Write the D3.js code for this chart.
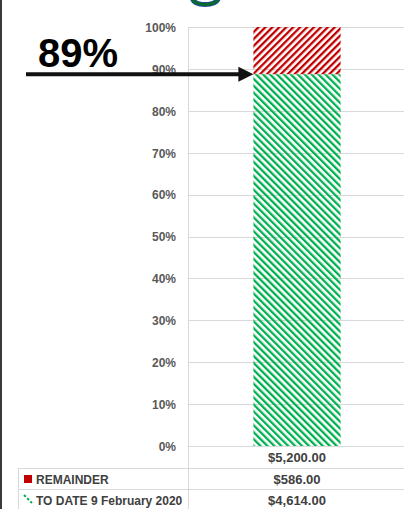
<!DOCTYPE html>
<html>
<head>
<meta charset="utf-8">
<script src="https://cdn.jsdelivr.net/npm/d3@7"></script>
<style>
  html, body { margin: 0; padding: 0; background: #fff; overflow: hidden; }
  svg { display: block; }
</style>
</head>
<body>
<svg id="chart" width="404" height="509"></svg>
<script>
// ---- data ----
const categories = ["$5,200.00"];
const seriesNames = ["TO DATE 9 February 2020", "REMAINDER"];
const toDateValues = [4614];
const remainderValues = [586];
const tableToDate = ["$4,614.00"];
const tableRemainder = ["$586.00"];
const tickValues = [0, 0.1, 0.2, 0.3, 0.4, 0.5, 0.6, 0.7, 0.8, 0.9, 1.0];
const annotationText = "89%";

// ---- layout ----
const W = 404, H = 509;
const plotLeft = 188, plotRight = 406, plotTop = 27, plotBottom = 446;
const rowLines = [468, 489];
const tableLeft = 18;
const grid = "#d9d9d9";
const red = "#c00000", green = "#00b050";

const svg = d3.select("#chart");
const defs = svg.append("defs");

function hatch(id, color, angle) {
  const p = defs.append("pattern")
    .attr("id", id).attr("patternUnits", "userSpaceOnUse")
    .attr("width", 4.9).attr("height", 4.9)
    .attr("patternTransform", `rotate(${angle})`);
  p.append("rect").attr("x", 0).attr("y", 0).attr("width", 2.3).attr("height", 4.9).attr("fill", color);
}
hatch("hatchRed", red, 45);
hatch("hatchGreen", green, -45);

// left page border
svg.append("rect").attr("x", 0).attr("y", 0).attr("width", 2).attr("height", H).attr("fill", "#3a3a3a");

// partial title glyph at top
const glyph = "M192,-3 Q193,4.5 205,4.5 Q217,4.5 219,-3";
svg.append("path").attr("d", glyph).attr("fill", "none")
  .attr("stroke", "#1d4fa0").attr("stroke-width", 5);
svg.append("path").attr("d", glyph).attr("fill", "none")
  .attr("stroke", "#0a6a2a").attr("stroke-width", 3);

// scales
const totals = categories.map((c, i) => toDateValues[i] + remainderValues[i]);
const y = d3.scaleLinear().domain([0, 1]).range([plotBottom, plotTop]);
const x = d3.scaleBand().domain(categories).range([plotLeft, plotRight])
  .paddingInner(0.6).paddingOuter(0.3);

// gridlines
svg.append("g").selectAll("line").data(tickValues).join("line")
  .attr("x1", plotLeft).attr("x2", W)
  .attr("y1", d => Math.round(y(d)) + 0.5).attr("y2", d => Math.round(y(d)) + 0.5)
  .attr("stroke", grid).attr("stroke-width", 1);

// axis tick labels
const axis = d3.axisLeft(y).tickValues(tickValues).tickFormat(d3.format(".0%")).tickSize(0).tickPadding(12);
const ag = svg.append("g").attr("transform", `translate(${plotLeft},0)`).call(axis);
ag.select(".domain").remove();
ag.selectAll("text")
  .attr("font-family", "Liberation Sans, Arial, sans-serif")
  .attr("font-size", 12).attr("font-weight", "bold").attr("fill", "#595959")
  .attr("dy", "0.36em");

// stacked bars
const stackData = categories.map((c, i) => ({
  cat: c,
  toDate: toDateValues[i] / totals[i],
  remainder: remainderValues[i] / totals[i]
}));
const stack = d3.stack().keys(["toDate", "remainder"]);
const layers = stack(stackData);
const fills = { toDate: "url(#hatchGreen)", remainder: "url(#hatchRed)" };
svg.append("g").selectAll("g").data(layers).join("g")
  .attr("fill", d => fills[d.key])
  .selectAll("rect").data(d => d).join("rect")
  .attr("x", d => x(d.data.cat))
  .attr("width", x.bandwidth())
  .attr("y", d => y(d[1]))
  .attr("height", d => y(d[0]) - y(d[1]));

// table lines
svg.append("line").attr("x1", plotLeft + 0.5).attr("x2", plotLeft + 0.5)
  .attr("y1", plotTop).attr("y2", H).attr("stroke", grid);
svg.append("line").attr("x1", tableLeft + 0.5).attr("x2", tableLeft + 0.5)
  .attr("y1", rowLines[0]).attr("y2", H).attr("stroke", grid);
svg.append("g").selectAll("line").data(rowLines).join("line")
  .attr("x1", tableLeft).attr("x2", W)
  .attr("y1", d => d + 0.5).attr("y2", d => d + 0.5)
  .attr("stroke", grid);

const tfont = "Liberation Sans, Arial, sans-serif";
const cx = c => x(c) + x.bandwidth() / 2;

// category label row
svg.append("g").selectAll("text").data(categories).join("text")
  .attr("x", d => cx(d)).attr("y", 461.5)
  .attr("text-anchor", "middle").attr("font-family", tfont)
  .attr("font-size", 13).attr("font-weight", "bold").attr("fill", "#404040")
  .text(d => d);

// table rows
const rows = [
  { name: seriesNames[1], vals: tableRemainder, y: 483.5, key: "remainder" },
  { name: seriesNames[0], vals: tableToDate, y: 504.5, key: "toDate" }
];
rows.forEach(r => {
  svg.append("text").attr("x", 36).attr("y", r.y)
    .attr("font-family", tfont).attr("font-size", 12).attr("font-weight", "bold")
    .attr("fill", "#404040").text(r.name);
  svg.append("g").selectAll("text").data(categories).join("text")
    .attr("x", d => cx(d)).attr("y", r.y)
    .attr("text-anchor", "middle").attr("font-family", tfont)
    .attr("font-size", 13).attr("font-weight", "bold").attr("fill", "#404040")
    .text((d, i) => r.vals[i]);
});
// legend keys
svg.append("rect").attr("x", 24).attr("y", 475).attr("width", 8).attr("height", 8).attr("fill", red);
svg.append("line").attr("x1", 24).attr("y1", 495).attr("x2", 32).attr("y2", 503)
  .attr("stroke", green).attr("stroke-width", 2).attr("stroke-dasharray", "2.5,2");

// annotation arrow
const yAnn = y(toDateValues[0] / totals[0]);
const tipX = x(categories[0]);
svg.append("line").attr("x1", 26).attr("x2", tipX - 12)
  .attr("y1", yAnn).attr("y2", yAnn)
  .attr("stroke", "#111").attr("stroke-width", 4);
svg.append("path")
  .attr("d", `M${tipX},${yAnn} L${tipX - 15},${yAnn - 7.5} L${tipX - 15},${yAnn + 7.5} Z`)
  .attr("fill", "#111");
svg.append("text").attr("x", 38).attr("y", 67)
  .attr("font-family", tfont).attr("font-size", 40).attr("font-weight", "bold")
  .attr("fill", "#000").text(annotationText);
</script>
</body>
</html>
